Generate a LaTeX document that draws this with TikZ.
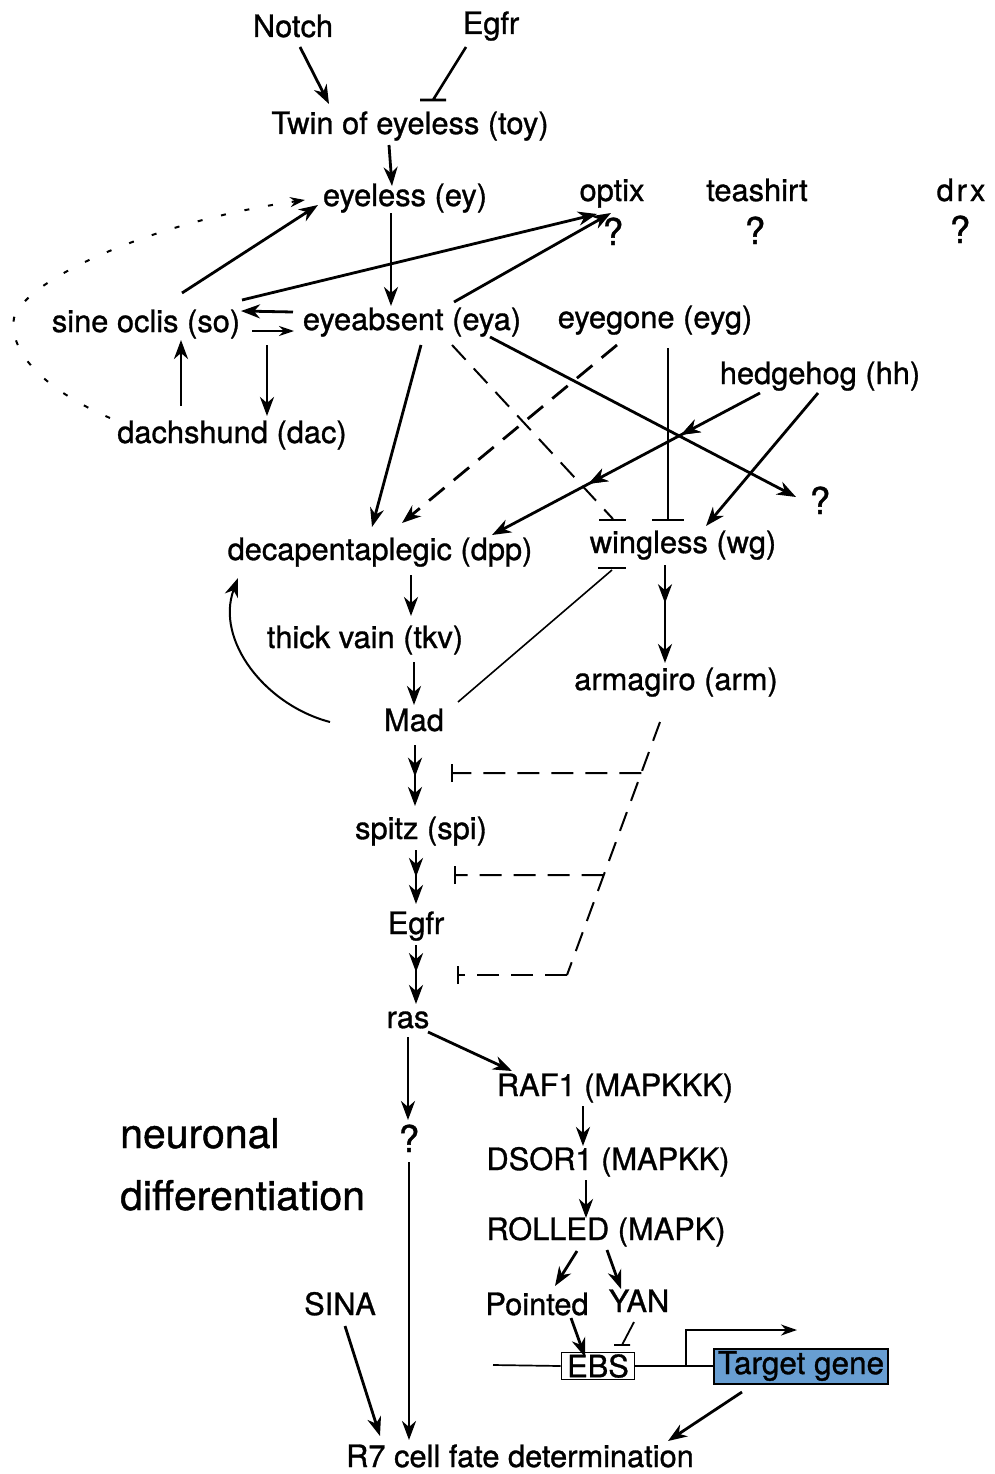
\documentclass[tikz,border=0pt]{standalone}
\usepackage{fontspec}
\setmainfont{TeX Gyre Heros}[FakeBold=1]
\usetikzlibrary{arrows.meta,calc,decorations.markings}

\definecolor{genefill}{RGB}{104,158,210}

\tikzset{
  lbl/.style={anchor=base, inner sep=0pt, font=\fontsize{30.8}{34}\selectfont},
  qm/.style={anchor=base, inner sep=0pt, font=\fontsize{37}{40}\selectfont},
  big/.style={anchor=base west, inner sep=0pt, font=\fontsize{41}{44}\selectfont},
  tip/.tip={Stealth[length=19pt,width=14pt,inset=6pt]},
  act/.style={line width=2.8pt, -tip},
  thinact/.style={line width=1.8pt, -{Stealth[length=15pt,width=10pt,inset=5pt]}},
  inh/.style={line width=2.6pt},
  thinline/.style={line width=1.6pt},
  longdash/.style={dash pattern=on 20pt off 12pt},
  dotcurve/.style={line width=2pt, dash pattern=on 5pt off 19pt},
  midtip/.style={postaction={decorate}, decoration={markings,
      mark=at position #1 with {\arrow{Stealth[length=19pt,width=14pt,inset=6pt]}}}},
  ebsbox/.style={draw, line width=1.7pt, inner sep=0pt, minimum width=73pt,
      minimum height=27pt, font=\fontsize{30.8}{34}\selectfont},
  genebox/.style={draw, line width=2pt, fill=genefill, inner sep=0pt,
      minimum width=174pt, minimum height=35pt, font=\fontsize{31.5}{34}\selectfont},
}

\begin{document}
\begin{tikzpicture}[x=1pt, y=-1pt]
\useasboundingbox (0,0) rectangle (994,1474);

% ---------- genes ----------
\node[lbl] (notch) at (293,37) {Notch};
\node[lbl] (egfrA) at (491,34) {Egfr};
\node[lbl] (toy) at (410,134) {Twin of eyeless (toy)};
\node[lbl] (ey) at (405,206) {eyeless (ey)};
\node[lbl] (optix) at (612,201) {optix};
\node[qm] (qoptix) at (613,245) {?};
\node[lbl] (tsh) at (757,201) {teashirt};
\node[qm] (qtsh) at (755,244) {?};
\node[lbl] (drx) at (961,201) {d\kern3pt r\kern3pt x};
\node[qm] (qdrx) at (960,243) {?};
\node[lbl] (so) at (146,332) {sine oclis (so)};
\node[lbl] (eya) at (412,330) {eyeabsent (eya)};
\node[lbl] (eyg) at (655,328) {eyegone (eyg)};
\node[lbl] (hh) at (820,384) {hedgehog (hh)};
\node[lbl] (dac) at (232,443) {dachshund (dac)};
\node[qm] (qhh) at (820,514) {?};
\node[lbl] (dpp) at (380,560) {decapentaplegic (dpp)};
\node[lbl] (wg) at (683,553) {wingless (wg)};
\node[lbl] (tkv) at (365,648) {thick vain (tkv)};
\node[lbl] (arm) at (676,690) {armagiro (arm)};
\node[lbl] (mad) at (414,731) {Mad};
\node[lbl] (spi) at (421,839) {spitz (spi)};
\node[lbl] (egfrB) at (416,934) {Egfr};
\node[lbl] (ras) at (408,1028) {ras};
\node[lbl] (raf) at (615,1096) {RAF1 (MAPKKK)};
\node[big] (neur) at (120,1148) {neuronal};
\node[big] (diff) at (120,1210) {differentiation};
\node[qm] (qras) at (409,1152) {?};
\node[lbl] (dsor) at (608,1170) {DSOR1 (MAPKK)};
\node[lbl] (rolled) at (606,1240) {ROLLED (MAPK)};
\node[lbl] (sina) at (340,1315) {SINA};
\node[lbl] (pnt) at (537,1315) {Pointed};
\node[lbl] (yan) at (639,1312) {YAN};
\node[ebsbox] (ebs) at (598,1366) {EBS};
\node[genebox] (target) at (801,1366) {Target gene};
\node[lbl] (r7) at (520,1467) {R7 cell fate determination};

% ---------- top of the cascade ----------
\draw[act] ([shift={(7,10)}]notch.base) -- ([shift={(-81,-30)}]toy.base);
\draw[inh] ([shift={(-25,13)}]egfrA.base) -- ([shift={(23,-34)}]toy.base)
  ++(-13,0) -- ++(26,0);
\draw[act] ([shift={(-21,11)}]toy.base) -- ([shift={(-13,-20)}]ey.base);
\draw[act] ([shift={(-14,7)}]ey.base) -- ([shift={(-21,-24)}]eya.base);

% sine oclis / eyes absent / dachshund loop
\draw[act] ([shift={(36,-39)}]so.base) -- ([shift={(-87,-1)}]ey.base);
\draw[act] ([shift={(96,-32)}]so.base) -- ([shift={(-15,13)}]optix.base);
\draw[act] ([shift={(42,-28)}]eya.base) -- ([shift={(-1,12)}]optix.base);
\draw[act] ([shift={(-119,-18)}]eya.base) -- ([shift={(95,-21)}]so.base);
\draw[thinact] ([shift={(106,-1)}]so.base) -- ([shift={(-118,1)}]eya.base);
\draw[act] ([shift={(-51,-37)}]dac.base) -- ([shift={(35,8)}]so.base);
\draw[act] ([shift={(35,-98)}]dac.base) -- ([shift={(35,-27)}]dac.base);
\draw[dotcurve, -{Stealth[length=15pt,width=10pt,inset=5pt]}]
  ([shift={(-122,-25)}]dac.base) .. controls (50,392) and (8,355) .. (14,318)
  .. controls (25,280) and (150,222) .. ([shift={(-100,-6)}]ey.base);

% eyes absent / eyegone / hedgehog towards dpp and wg
\draw[act] ([shift={(9,15)}]eya.base) -- ([shift={(-8,-33)}]dpp.base);
\draw[act, longdash] ([shift={(-38,17)}]eyg.base) -- ([shift={(22,-37)}]dpp.base);
\draw[inh, line width=2pt, longdash] ([shift={(40,15)}]eya.base) -- ([shift={(-70,-34)}]wg.base);
\draw[inh, line width=2pt] ([shift={(-84,-33)}]wg.base) -- ++(27,0);
\draw[thinline] ([shift={(13,20)}]eyg.base) -- ([shift={(-15,-33)}]wg.base)
  ++(-16,0) -- ++(32,0);
\draw[act] ([shift={(78,7)}]eya.base) -- ([shift={(-24,-17)}]qhh.base);
\coordinate (hhA) at ([shift={(-60,9)}]hh.base);
\coordinate (hhB) at ([shift={(112,-25)}]dpp.base);
\draw[act, midtip=0.295, midtip=0.64] (hhA) -- (hhB);
\draw[act] ([shift={(-2,9)}]hh.base) -- ([shift={(23,-27)}]wg.base);

% dpp branch
\draw[act] ([shift={(31,15)}]dpp.base) -- ([shift={(46,-32)}]tkv.base);
\draw[act] ([shift={(49,14)}]tkv.base) -- ([shift={(0,-26)}]mad.base);
\draw[act, line width=2pt] ([shift={(-84,-9)}]mad.base)
  .. controls (265,705) and (215,640) .. ([shift={(-142,18)}]dpp.base);
\draw[thinline] ([shift={(44,-29)}]mad.base) -- ([shift={(-71,17)}]wg.base);
\draw[inh, line width=2pt] ([shift={(-85,15)}]wg.base) -- ++(28,0);

% wingless branch
\draw[act, midtip=0.39] ([shift={(-18,12)}]wg.base) -- ([shift={(-11,-27)}]arm.base);
\coordinate (armTop) at ([shift={(-16,32)}]arm.base);
\coordinate (armBot) at (567,975);
\coordinate (blk1) at (452,773);
\coordinate (blk2) at (455,875);
\coordinate (blk3) at (458,975);
\draw[line width=2pt, longdash] (armTop) -- (armBot);
\draw[line width=2pt, dash pattern=on 22pt off 12pt]
  ($(armTop)!0.2016!(armBot)$) -- (blk1);
\draw[line width=2pt, dash pattern=on 22pt off 12pt]
  ($(armTop)!0.605!(armBot)$) -- (blk2);
\draw[line width=2pt, dash pattern=on 22pt off 12pt]
  (armBot) -- (blk3);
\foreach \b in {blk1,blk2,blk3}
  \draw[line width=2pt] ([yshift=-9pt]\b) -- ([yshift=9pt]\b);

% Mad to ras
\draw[act, midtip=0.52] ([shift={(1,14)}]mad.base) -- ([shift={(-6,-33)}]spi.base);
\draw[act, midtip=0.5] ([shift={(-5,11)}]spi.base) -- ([shift={(0,-30)}]egfrB.base);
\draw[act, midtip=0.46] ([shift={(0,11)}]egfrB.base) -- ([shift={(8,-24)}]ras.base);

% MAP kinase cascade
\draw[act] ([shift={(20,4)}]ras.base) -- ([shift={(-103,-25)}]raf.base);
\draw[act] ([shift={(0,9)}]ras.base) -- ([shift={(-1,-32)}]qras.base);
\draw[act] ([shift={(0,10)}]qras.base) -- ([shift={(-111,-27)}]r7.base);
\draw[act] ([shift={(5,11)}]sina.base) -- ([shift={(-140,-31)}]r7.base);
\draw[act] ([shift={(-32,10)}]raf.base) -- ([shift={(-25,-24)}]dsor.base);
\draw[act] ([shift={(-22,10)}]dsor.base) -- ([shift={(-20,-22)}]rolled.base);
\draw[act] ([shift={(-29,11)}]rolled.base) -- ([shift={(18,-29)}]pnt.base);
\draw[act] ([shift={(1,10)}]rolled.base) -- ([shift={(-18,-23)}]yan.base);
\draw[act] ([shift={(34,3)}]pnt.base) -- ([shift={(-13,-9)}]ebs.center);
\draw[thinline, line width=1.8pt] ([shift={(-5,10)}]yan.base) -- ([shift={(24,-21)}]ebs.center)
  ++(-8,0) -- ++(16,0);

% promoter region
\coordinate (dnaL) at (493,1365);
\draw[line width=1.7pt] (dnaL) -- (ebs.west);
\draw[line width=1.7pt] (ebs.east) -- (target.west);
\draw[line width=1.8pt, -{Stealth[length=16pt,width=11pt,inset=5pt]}]
  ([shift={(-115,-1)}]target.center) -- ([shift={(-115,-36)}]target.center)
  -- ([shift={(-4,-36)}]target.center);
\draw[act] ([shift={(-59,26)}]target.center) -- ([shift={(148,-26)}]r7.base);
\end{tikzpicture}
\end{document}
